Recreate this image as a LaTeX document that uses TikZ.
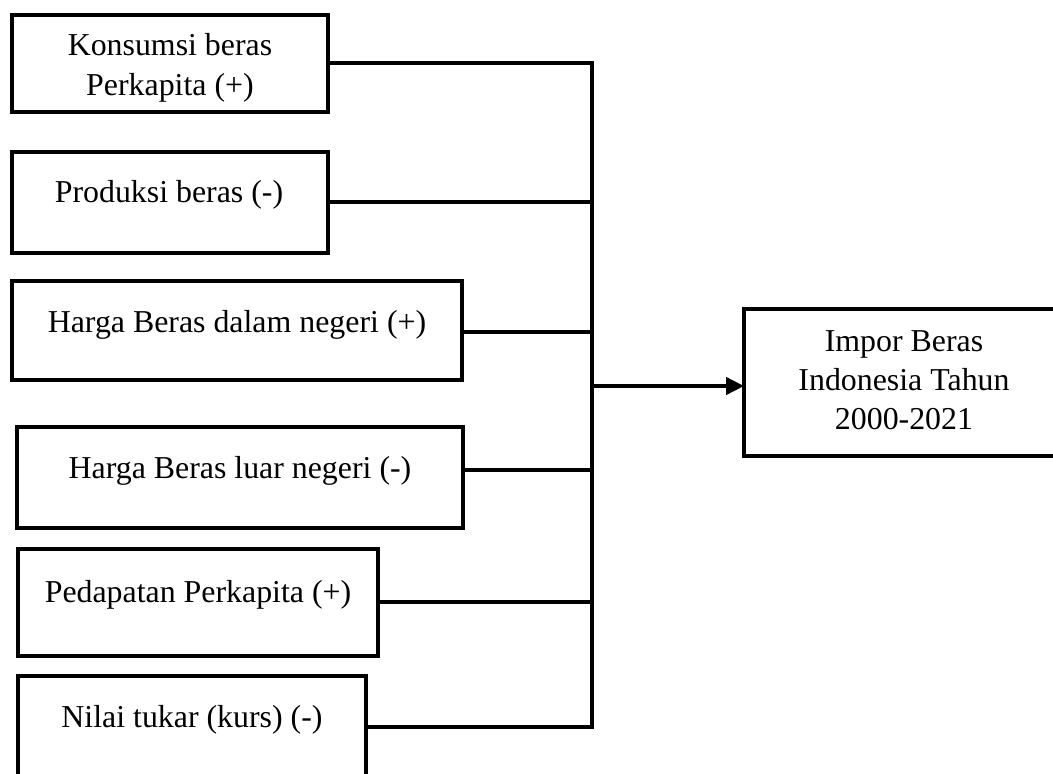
\documentclass[tikz,border=0pt]{standalone}
\usepackage{fontspec}
\setmainfont{Liberation Serif}
\usetikzlibrary{arrows.meta}
\begin{document}
\begin{tikzpicture}[x=0.75pt,y=-0.75pt,
  boxx/.style={draw,line width=2.8pt,rectangle,inner sep=0pt,outer sep=0pt},
  txt/.style={inner sep=0pt,outer sep=0pt,anchor=base,font=\fontsize{23.9}{29.5}\selectfont,align=center},
  conn/.style={line width=2.6pt}]
\useasboundingbox (0,0) rectangle (1053,774);
\begin{scope}
\clip (0,0) rectangle (1053,774);
% boxes
\node[boxx,minimum width=316*0.75pt,minimum height=97*0.75pt] (b1) at (170,63.5) {};
\node[boxx,minimum width=316*0.75pt,minimum height=101*0.75pt] (b2) at (170,202.5) {};
\node[boxx,minimum width=450*0.75pt,minimum height=99*0.75pt] (b3) at (237,330.5) {};
\node[boxx,minimum width=446*0.75pt,minimum height=101*0.75pt] (b4) at (240,477.5) {};
\node[boxx,minimum width=360*0.75pt,minimum height=107*0.75pt] (b5) at (198,602.5) {};
\node[boxx,minimum width=348*0.75pt,minimum height=114*0.75pt] (b6) at (192,733) {};
\node[boxx,minimum width=320*0.75pt,minimum height=147*0.75pt] (b7) at (904,382.5) {};
% texts (base = baseline of the last line)
\node[txt] (t1) at (170,95) {Konsumsi beras\\Perkapita (+)};
\node[txt] (t2) at (169,202) {Produksi beras (-)};
\node[txt] (t3) at (237,332) {Harga Beras dalam negeri (+)};
\node[txt] (t4) at (240,478) {Harga Beras luar negeri (-)};
\node[txt] (t5) at (198,602) {Pedapatan Perkapita (+)};
\node[txt] (t6) at (192,727) {Nilai tukar (kurs) (-)};
\node[txt,font=\fontsize{23.9}{28.9}\selectfont] (t7) at (904,429) {Impor Beras\\Indonesia Tahun\\2000-2021};
% trunk junctions
\coordinate (j1) at (592,63);
\coordinate (j2) at (592,202);
\coordinate (j3) at (592,332);
\coordinate (j4) at (592,470);
\coordinate (j5) at (592,602);
\coordinate (j6) at (592,727);
\coordinate (jm) at (592,386);
\draw[conn] (b1.east |- j1) -- (j1);
\draw[conn] (b2.east |- j2) -- (j2);
\draw[conn] (b3.east |- j3) -- (j3);
\draw[conn] (b4.east |- j4) -- (j4);
\draw[conn] (b5.east |- j5) -- (j5);
\draw[conn] (b6.east |- j6) -- (j6);
\draw[conn,line cap=rect] (j1) -- (j6);
\draw[conn,-{Triangle[length=13.5pt,width=13pt]}] (jm) -- (b7.west |- jm);
\end{scope}
\end{tikzpicture}
\end{document}
